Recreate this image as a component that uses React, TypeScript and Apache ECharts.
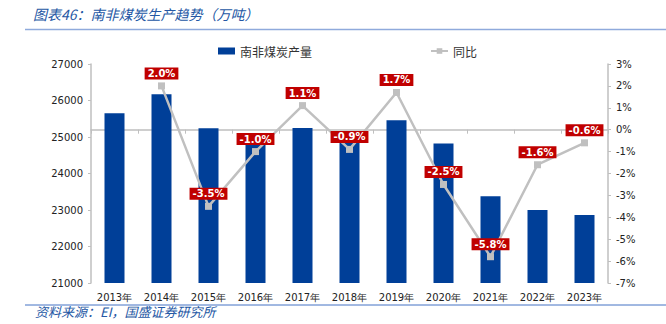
import React, { useEffect, useRef } from "react";
import * as echarts from "echarts";

const categories = ["2013年", "2014年", "2015年", "2016年", "2017年", "2018年", "2019年", "2020年", "2021年", "2022年", "2023年"];
const production = [25650, 26170, 25240, 24990, 25250, 25030, 25460, 24820, 23380, 23000, 22860];
const yoy = [null, 2.0, -3.5, -1.0, 1.1, -0.9, 1.7, -2.5, -5.8, -1.6, -0.6];
const titleText = "图表46：南非煤炭生产趋势（万吨）";
const sourceText = "资料来源：EI，国盛证券研究所";

export default function App() {
  const ref = useRef<HTMLDivElement>(null);
  useEffect(() => {
    const chart = echarts.init(ref.current!, null, { renderer: "svg" });
    const axisColor = "#BFBFBF";
    const labelFont = { fontFamily: "DejaVu Sans", fontSize: 10, color: "#222" };
    chart.setOption({
      animation: false,
      backgroundColor: "#fff",
      grid: { left: 91, right: 58, top: 64, bottom: 41 },
      legend: {
        left: 213,
        top: 40,
        itemGap: 118,
        itemWidth: 17,
        itemHeight: 7,
        textStyle: { fontFamily: "Noto Sans CJK SC", fontSize: 12, color: "#333" },
        data: [
          { name: "南非煤炭产量", icon: "rect" },
          { name: "同比" },
        ],
      },
      graphic: [
        {
          type: "text",
          left: 33,
          top: 7,
          style: { text: titleText, fontFamily: "Noto Sans CJK SC", fontStyle: "italic", fontSize: 14, fill: "#2457A4" },
        },
        { type: "line", shape: { x1: 25, y1: 29.5, x2: 666, y2: 29.5 }, style: { stroke: "#8FAADC", lineWidth: 1.5 } },
        { type: "line", shape: { x1: 25, y1: 305, x2: 666, y2: 305 }, style: { stroke: "#4472C4", lineWidth: 1 } },
        {
          type: "text",
          left: 35,
          top: 305,
          style: { text: sourceText, fontFamily: "Noto Sans CJK SC", fontStyle: "italic", fontSize: 13, fill: "#2457A4" },
        },
      ],
      xAxis: {
        type: "category",
        data: categories,
        axisLine: { lineStyle: { color: axisColor, width: 1.5 } },
        axisTick: { show: true, lineStyle: { color: axisColor }, length: 4 },
        axisLabel: { ...labelFont, margin: 9 },
      },
      yAxis: [
        {
          type: "value",
          min: 21000,
          max: 27000,
          interval: 1000,
          axisLine: { show: true, lineStyle: { color: axisColor, width: 1.5 } },
          axisTick: { show: true, length: 3, lineStyle: { color: axisColor } },
          splitLine: { show: false },
          axisLabel: { ...labelFont, margin: 8, formatter: (v: number) => String(v) },
        },
        {
          type: "value",
          min: -7,
          max: 3,
          interval: 1,
          position: "right",
          axisLine: { show: true, lineStyle: { color: axisColor, width: 1.5 } },
          axisTick: { show: true, length: 3, lineStyle: { color: axisColor } },
          splitLine: { show: false },
          axisLabel: { ...labelFont, margin: 8, formatter: (v: number) => `${v}%` },
        },
      ],
      series: [
        {
          name: "南非煤炭产量",
          type: "bar",
          data: production,
          barWidth: 20,
          itemStyle: { color: "#003F98" },
          yAxisIndex: 0,
        },
        {
          name: "同比",
          type: "line",
          yAxisIndex: 1,
          data: yoy,
          symbol: "rect",
          symbolSize: 7,
          lineStyle: { color: "#C0C0C0", width: 2.5 },
          itemStyle: { color: "#C0C0C0" },
          label: {
            show: true,
            position: "top",
            distance: 3,
            formatter: (p: any) => `${Number(p.value).toFixed(1)}%`,
            backgroundColor: "#C00000",
            color: "#fff",
            fontFamily: "DejaVu Sans",
            fontWeight: "bold",
            fontSize: 10,
            padding: [1, 3, 1, 3],
          },
        },
      ],
    });
    return () => chart.dispose();
  }, []);
  return <div ref={ref} style={{ position: "fixed", left: 0, top: 0, width: 666, height: 324 }} />;
}
